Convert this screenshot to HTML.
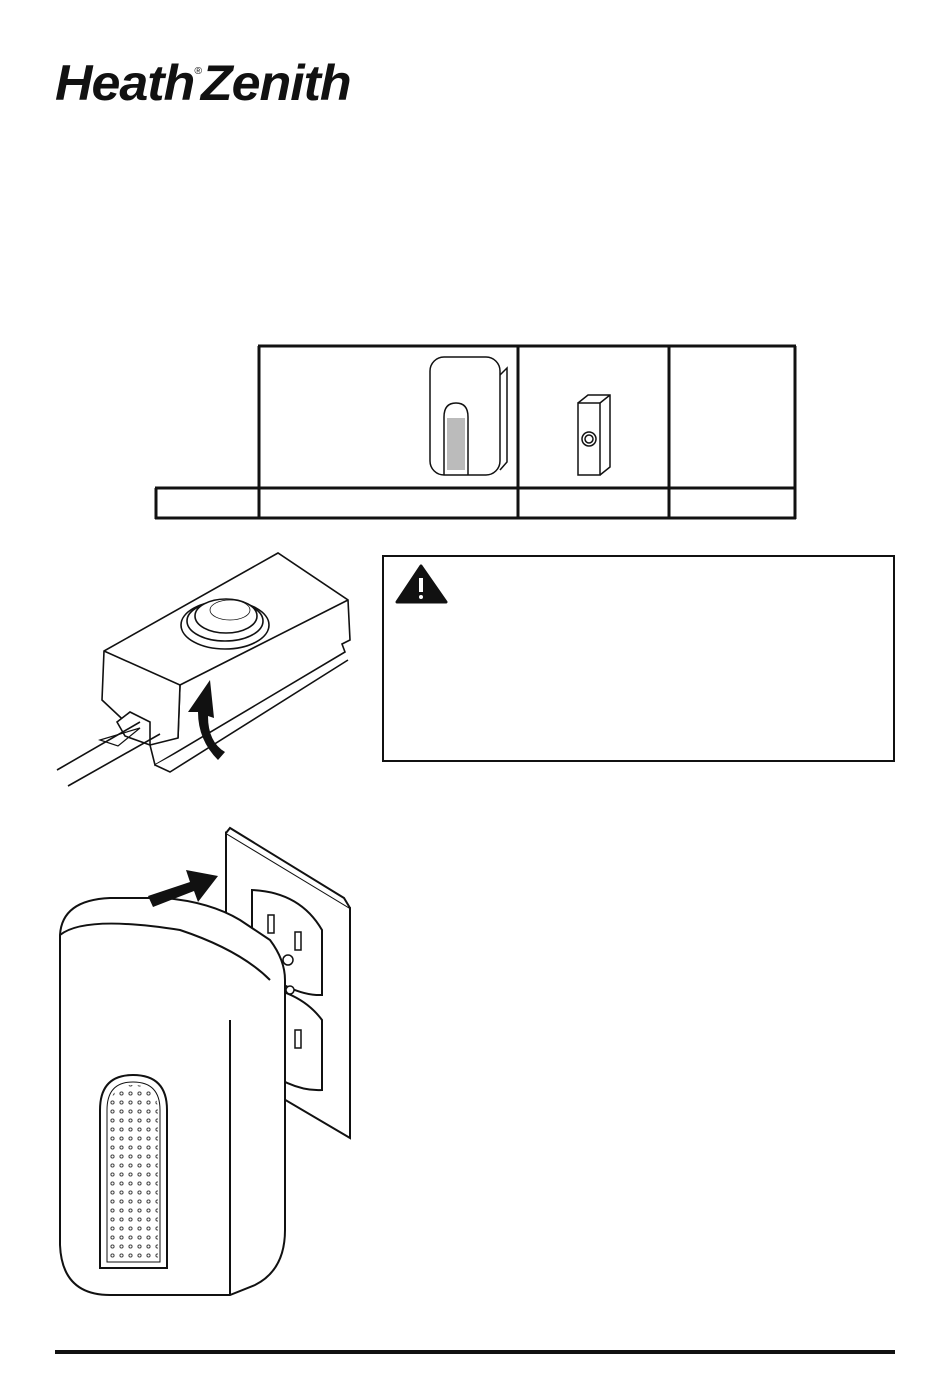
<!DOCTYPE html>
<html><head><meta charset="utf-8"><style>
html,body{margin:0;padding:0;background:#fff;}
body{width:950px;height:1393px;position:relative;overflow:hidden;font-family:"Liberation Sans",sans-serif;}
.logo{position:absolute;left:55px;top:54px;font-size:50px;font-weight:bold;font-style:italic;letter-spacing:-1px;transform:scaleX(1.04);transform-origin:left top;color:#111;white-space:nowrap}
.logo sup{font-size:10px;font-weight:normal;vertical-align:top;position:relative;top:12px}
</style></head><body>
<div class="logo">Heath<sup>®</sup>Zenith</div>
<svg width="950" height="1393" style="position:absolute;left:0;top:0" fill="none" stroke="#111">
<g stroke-width="3">
<line x1="258" y1="346" x2="796" y2="346"/>
<line x1="259" y1="346" x2="259" y2="519"/>
<line x1="518" y1="346" x2="518" y2="519"/>
<line x1="669" y1="346" x2="669" y2="519"/>
<line x1="795" y1="346" x2="795" y2="519"/>
<line x1="155" y1="488" x2="796" y2="488"/>
<line x1="155" y1="518" x2="796" y2="518"/>
<line x1="156" y1="488" x2="156" y2="519"/>
</g>
<g stroke-width="1.5">
<rect x="430" y="357" width="70" height="118" rx="14" fill="#fff"/>
<path d="M500 375 L507 368 L507 462 L500 470"/>
<path d="M444 475 L444 417 Q444 403 456 403 Q468 403 468 417 L468 475"/>
<rect x="447" y="418" width="18" height="52" fill="#bbb" stroke="none"/>
</g>
<g stroke-width="1.5">
<rect x="578" y="403" width="22" height="72" fill="#fff"/>
<path d="M578 403 L588 395 L610 395 L610 467 L600 475 M600 403 L610 395"/>
<circle cx="589" cy="439" r="7"/><circle cx="589" cy="439" r="4"/>
</g>
<rect x="383" y="556" width="511" height="205" stroke-width="2"/>
<path d="M421 566 L446 602 L397 602 Z" fill="#111" stroke-linejoin="round" stroke-width="3"/>
<path d="M421 578 L421 592" stroke="#fff" stroke-width="4"/>
<circle cx="421" cy="597" r="2" fill="#fff" stroke="none"/>
<g stroke-width="1.6" fill="#fff">
<path d="M342 644 L350 640 L348 600 L278 553 L104 651 L102 700 L150 745 L155 765 L345 652 Z"/>
<path d="M104 651 L180 685 L178 738 M180 685 L348 600"/>
<path d="M150 745 L178 738 L180 685"/>
<path d="M155 765 L170 772 L348 660"/>
<path d="M117 722 L130 712 L150 722 L150 745 L125 736 Z"/>
<ellipse cx="225" cy="625" rx="44" ry="24"/>
<ellipse cx="225" cy="621" rx="38" ry="20"/>
<ellipse cx="226" cy="616" rx="31" ry="17"/>
<ellipse cx="230" cy="610" rx="20" ry="10" stroke-width="0.8"/>
</g>
<path d="M57 770 L140 722 M68 786 L160 734" stroke-width="1.6"/>
<path d="M100 740 L140 728 L118 746 Z" stroke-width="1.2"/>
<path d="M218 760 Q198 740 198 712 L188 712 L210 680 L214 718 L208 716 Q208 742 225 752 Z" fill="#111" stroke="none"/>
<g stroke-width="2" fill="#fff">
<path d="M226 833 L350 908 L350 1138 L226 1065 Z"/>
<path d="M226 833 L230 828 L344 898 L350 908" />
<path d="M252 890 Q300 892 322 930 L322 995 Q290 996 252 962 Z"/>
<path d="M252 985 Q300 990 322 1020 L322 1090 Q290 1092 252 1060 Z"/>
<rect x="268" y="915" width="6" height="18" stroke-width="1.5"/>
<rect x="295" y="932" width="6" height="18" stroke-width="1.5"/>
<rect x="295" y="1030" width="6" height="18" stroke-width="1.5"/>
<circle cx="288" cy="960" r="5" stroke-width="1.5"/>
<circle cx="290" cy="990" r="4" stroke-width="1.5"/>
</g>
<g stroke-width="2" fill="#fff">
<path d="M60 935 Q62 900 110 898 L165 898 Q210 902 240 920 L270 940 Q285 960 285 980 L285 1230 Q285 1270 255 1285 L230 1295 L110 1295 Q62 1295 60 1245 Z"/>
<path d="M60 935 Q85 915 180 930 Q240 950 270 980"/>
<path d="M230 1020 L230 1295" />
<path d="M100 1268 L100 1110 Q100 1075 133 1075 Q167 1075 167 1110 L167 1268 Z"/>
<path d="M107 1262 L107 1110 Q107 1082 133 1082 Q160 1082 160 1110 L160 1262 Z" stroke-width="1"/>
</g>
<path d="M148 896 L190 882 L186 870 L218 876 L198 902 L194 891 L153 907 Z" fill="#111" stroke="none"/>
<g fill="none" stroke="#333" stroke-width="0.9">
<pattern id="dots" width="9" height="9" patternUnits="userSpaceOnUse"><circle cx="4.5" cy="4.5" r="1.6"/></pattern>
<path d="M109 1260 L109 1112 Q109 1085 133 1085 Q158 1085 158 1112 L158 1260 Z" fill="url(#dots)" stroke="none"/>
</g>
<line x1="55" y1="1352" x2="895" y2="1352" stroke-width="4"/>
</svg>
</body></html>
